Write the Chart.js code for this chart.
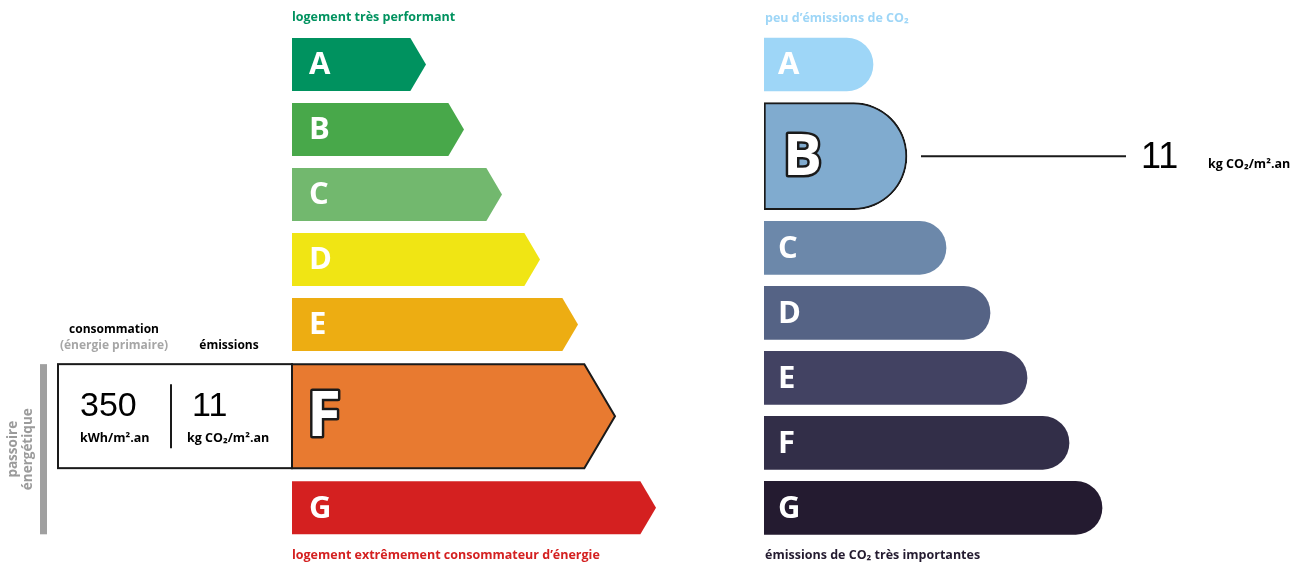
<!DOCTYPE html>
<html>
<head>
<meta charset="utf-8">
<script src="https://cdn.jsdelivr.net/npm/chart.js@4.4.0/dist/chart.umd.min.js"></script>
<style>
  body { margin: 0; width: 1303px; height: 567px; background: #fff; position: relative; overflow: hidden; font-family: "Open Sans", sans-serif; }
  canvas { position: absolute; top: 0; }
  .t { position: absolute; font-weight: 700; font-size: 12.5px; white-space: nowrap; line-height: 16px; }
</style>
</head>
<body>
<canvas id="energyChart" width="720" height="567" style="left:0"></canvas>
<canvas id="co2Chart" width="563" height="567" style="left:740px"></canvas>
<div class="t" style="left:292px;top:9px;color:#00925f">logement très performant</div>
<div class="t" style="left:292px;top:547px;color:#d42020">logement extrêmement consommateur d’énergie</div>
<div class="t" style="left:765px;top:10px;color:#9ed6f7">peu d’émissions de CO₂</div>
<div class="t" style="left:765px;top:547px;color:#241b30">émissions de CO₂ très importantes</div>
<script>
// classes DPE
const classes = ['A', 'B', 'C', 'D', 'E', 'F', 'G'];
// longueur des étiquettes
const energyLength = [134, 172, 210, 248, 286, 323, 364];
const co2Length = [109, 143, 182, 226, 263, 305, 338];
// valeurs du logement
const consumption = 350;   // kWh/m².an
const emissions = 11;      // kg CO2/m².an
const energyClass = 'F';
const co2Class = 'B';

const energyColors = ['#00925f', '#48a84a', '#72b86e', '#f0e514', '#edad12', '#e87a30', '#d42020'];
const co2Colors = ['#9ed6f7', '#80abcf', '#6c88aa', '#556385', '#424262', '#322e48', '#241b30'];

// the highlighted row takes more room, rows after it are pushed down
function rowPos(i, h) {
  return i + (i >= h ? 0.41 : 0) + (i > h ? 0.41 : 0);
}

function buildData(lengths, current) {
  const h = classes.indexOf(current);
  const normal = [], big = [];
  classes.forEach((c, i) => {
    const p = { x: lengths[i], y: rowPos(i, h), cls: c };
    (i === h ? big : normal).push(p);
  });
  return { normal, big };
}

function baseOptions(xMax, padLeft) {
  return {
    indexAxis: 'y',
    responsive: false,
    animation: false,
    layout: { padding: { left: padLeft, top: 32, bottom: 15, right: 0 } },
    scales: {
      x: { display: false, min: 0, max: xMax, offset: false },
      y: { type: 'linear', display: false, reverse: true, min: -0.5, max: 7.5, offset: false, grace: 0 }
    },
    plugins: { legend: { display: false }, tooltip: { enabled: false } }
  };
}

function drawLetter(ctx, letter, x, y, size, outline) {
  ctx.save();
  ctx.font = '700 ' + size + 'px "Open Sans", sans-serif';
  ctx.textBaseline = 'middle';
  ctx.textAlign = 'left';
  if (outline) {
    ctx.lineWidth = 5;
    ctx.lineJoin = 'round';
    ctx.strokeStyle = '#1a1a1a';
    ctx.strokeText(letter, x, y);
  }
  ctx.fillStyle = '#fff';
  ctx.fillText(letter, x, y);
  ctx.restore();
}

function barProps(bar) {
  return bar.getProps(['x', 'y', 'base', 'height'], true);
}

// Energy arrows
const arrowPlugin = {
  id: 'arrows',
  afterDatasetsDraw(chart) {
    const ctx = chart.ctx;
    const bigBar = barProps(chart.getDatasetMeta(1).data[0]);
    const top = bigBar.y - bigBar.height / 2, bottom = bigBar.y + bigBar.height / 2;
    const boxLeft = 58;

    // passoire énergétique (F and G)
    const gMeta = chart.getDatasetMeta(0).data;
    const gBar = barProps(gMeta[gMeta.length - 1]);
    const gBottom = gBar.y + gBar.height / 2;
    ctx.save();
    ctx.fillStyle = '#a0a0a0';
    ctx.fillRect(40, top, 7, gBottom - top);
    ctx.translate(20, (top + gBottom) / 2);
    ctx.rotate(-Math.PI / 2);
    ctx.font = '700 13.5px "Open Sans", sans-serif';
    ctx.textAlign = 'center';
    ctx.textBaseline = 'middle';
    ctx.fillStyle = '#9b9b9b';
    ctx.fillText('passoire', 0, -7);
    ctx.fillText('énergétique', 0, 8);
    ctx.restore();

    // value box
    ctx.save();
    ctx.fillStyle = '#fff';
    ctx.fillRect(boxLeft, top, bigBar.base - boxLeft, bigBar.height);
    ctx.lineWidth = 2;
    ctx.strokeStyle = '#1a1a1a';
    ctx.strokeRect(boxLeft, top, bigBar.base - boxLeft, bigBar.height);
    ctx.beginPath();
    ctx.moveTo(171, top + 20);
    ctx.lineTo(171, bottom - 20);
    ctx.stroke();
    ctx.fillStyle = '#000';
    ctx.textBaseline = 'alphabetic';
    ctx.font = '34px "Liberation Sans", Arial, sans-serif';
    ctx.fillText(String(consumption), 80, top + 52);
    ctx.fillText(String(emissions), 192, top + 52);
    ctx.font = '700 12.5px "Open Sans", sans-serif';
    ctx.fillText('kWh/m².an', 80, top + 78);
    ctx.fillText('kg CO₂/m².an', 187, top + 78);
    // headers
    ctx.font = '700 12px "Open Sans", sans-serif';
    ctx.textAlign = 'center';
    ctx.fillText('consommation', 114, top - 31);
    ctx.fillText('émissions', 229, top - 15);
    ctx.fillStyle = '#a6a6a6';
    ctx.fillText('(énergie primaire)', 114, top - 15);
    ctx.restore();

    chart.data.datasets.forEach((ds, di) => {
      chart.getDatasetMeta(di).data.forEach((bar, i) => {
        const { x, y, base, height } = barProps(bar);
        const cls = ds.data[i].cls;
        const tip = height * 0.295;
        ctx.save();
        ctx.beginPath();
        ctx.moveTo(base, y - height / 2);
        ctx.lineTo(x - tip, y - height / 2);
        ctx.lineTo(x, y);
        ctx.lineTo(x - tip, y + height / 2);
        ctx.lineTo(base, y + height / 2);
        ctx.closePath();
        ctx.fillStyle = energyColors[classes.indexOf(cls)];
        ctx.fill();
        if (di === 1) {
          ctx.lineWidth = 2;
          ctx.lineJoin = 'miter';
          ctx.strokeStyle = '#1a1a1a';
          ctx.stroke();
          drawLetter(ctx, cls, base + 15, y + 2, 62, true);
        } else {
          drawLetter(ctx, cls, base + 17, y + 1, 31, false);
        }
        ctx.restore();
      });
    });
  }
};

const e = buildData(energyLength, energyClass);
new Chart(document.getElementById('energyChart'), {
  type: 'bar',
  data: {
    datasets: [
      { data: e.normal, barThickness: 53, grouped: false, backgroundColor: 'rgba(0,0,0,0)' },
      { data: e.big, barThickness: 104, grouped: false, backgroundColor: 'rgba(0,0,0,0)' }
    ]
  },
  options: baseOptions(428, 292),
  plugins: [arrowPlugin]
});

// CO2 bars (rounded ends drawn by Chart.js)
const co2Plugin = {
  id: 'co2Labels',
  afterDatasetsDraw(chart) {
    const ctx = chart.ctx;
    chart.data.datasets.forEach((ds, di) => {
      chart.getDatasetMeta(di).data.forEach((bar, i) => {
        const { x, y, base } = barProps(bar);
        const cls = ds.data[i].cls;
        if (di === 1) {
          drawLetter(ctx, cls, base + 19, y + 2, 58, true);
          ctx.save();
          ctx.strokeStyle = '#1a1a1a';
          ctx.lineWidth = 2;
          ctx.beginPath();
          ctx.moveTo(x + 14, y);
          ctx.lineTo(386, y);
          ctx.stroke();
          ctx.fillStyle = '#000';
          ctx.font = '36px "Liberation Sans", Arial, sans-serif';
          ctx.fillText(String(emissions), 401, y + 12);
          ctx.font = '700 12.5px "Open Sans", sans-serif';
          ctx.fillText('kg CO₂/m².an', 468, y + 12);
          ctx.restore();
        } else {
          drawLetter(ctx, cls, base + 14, y + 1, 31, false);
        }
      });
    });
  }
};

const c = buildData(co2Length, co2Class);
const co2Fill = ctx => co2Colors[classes.indexOf(ctx.raw.cls)];
new Chart(document.getElementById('co2Chart'), {
  type: 'bar',
  data: {
    datasets: [
      { data: c.normal, barThickness: 53, grouped: false, backgroundColor: co2Fill,
        borderWidth: 0, borderRadius: { topRight: 60, bottomRight: 60 } },
      { data: c.big, barThickness: 107, grouped: false, backgroundColor: co2Fill,
        borderColor: '#1a1a1a', borderWidth: 2, borderSkipped: false,
        borderRadius: { topRight: 80, bottomRight: 80 } }
    ]
  },
  options: baseOptions(539, 24),
  plugins: [co2Plugin]
});
</script>
</body>
</html>
